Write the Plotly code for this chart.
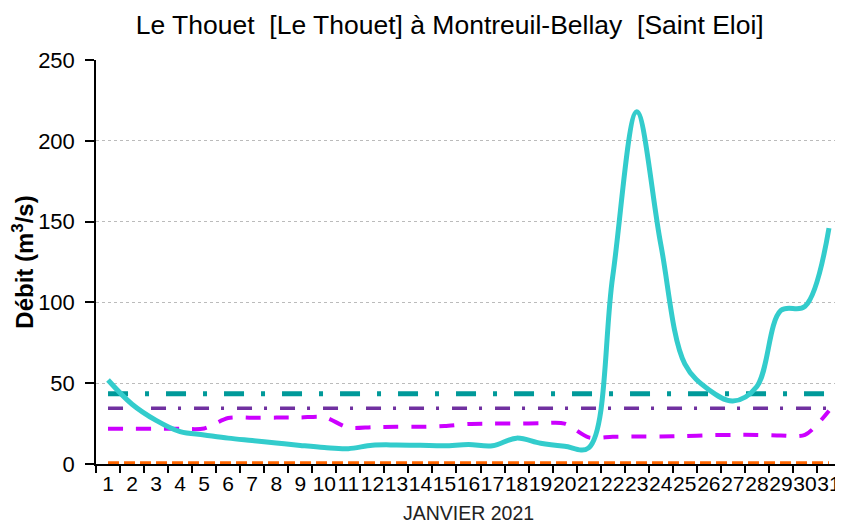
import plotly.graph_objects as go

days = list(range(1, 32))
day_labels = [str(d) for d in days]

debit = [52, 37, 27, 20, 18, 16, 14.5, 13, 11.5, 10.2, 9.5, 11.6, 11.8, 11.6, 11.3, 12,
         11.3, 16, 12.8, 11, 10, 116, 218, 136, 62, 46, 39, 48, 95, 97.5, 146]
seuil_teal = [43.5] * 31
seuil_purple = [34.5] * 31
magenta = [21.8, 21.8, 21.8, 21.8, 22, 28.5, 28.6, 28.7, 28.8, 29, 22.5, 22.8, 23, 23, 23.5,
           24.8, 25, 25, 25.2, 25, 16.5, 16.8, 17, 17, 17.3, 17.8, 18, 18, 17.6, 18, 33]
orange = [0.5] * 31

fig = go.Figure()
fig.add_trace(go.Scatter(x=days, y=orange, mode="lines",
                         line=dict(color="#FF6600", width=4, dash="11px,5px")))
fig.add_trace(go.Scatter(x=days, y=magenta, mode="lines",
                         line=dict(color="#CC00FF", width=4, dash="15px,13px", shape="spline", smoothing=0.8)))
fig.add_trace(go.Scatter(x=days, y=seuil_purple, mode="lines",
                         line=dict(color="#7030A0", width=3.5, dash="15px,12px,3px,13px")))
fig.add_trace(go.Scatter(x=days, y=seuil_teal, mode="lines",
                         line=dict(color="#009999", width=5, dash="20px,17px,4px,17px")))
fig.add_trace(go.Scatter(x=days, y=debit, mode="lines",
                         line=dict(color="#33CCCC", width=5, shape="spline", smoothing=1.0)))

# the page body adds an 8px offset, so the figure is sized to end at the window edge
fig.update_layout(
    width=835, height=518,
    margin=dict(l=88, r=2, t=52, b=62),
    paper_bgcolor="white", plot_bgcolor="white",
    showlegend=False,
    font=dict(family="Arial, Liberation Sans, sans-serif", color="black"),
    title=dict(text="Le Thouet  [Le Thouet] à Montreuil-Bellay  [Saint Eloi]",
               x=0.529, xanchor="center", y=0.967, yanchor="middle",
               font=dict(family="Arial, Liberation Sans, sans-serif", size=26.5, color="black")),
)
fig.update_xaxes(
    range=[0.5, 31.5], tickmode="array", tickvals=days, ticktext=day_labels,
    tickangle=0, ticks="", tickfont=dict(size=21),
    showline=True, linecolor="black", linewidth=1.5, showgrid=False, zeroline=False,
    minor=dict(ticks="outside", tick0=0.5, dtick=1, ticklen=7, tickcolor="black", tickwidth=1.5, showgrid=False),
    title=dict(text="JANVIER 2021", font=dict(size=19.5, color="#222222"), standoff=12),
    automargin=False,
)
fig.update_yaxes(
    range=[0, 250], tickvals=[0, 50, 100, 150, 200, 250],
    ticks="outside", ticklen=9, tickcolor="black", tickwidth=1.5,
    tickfont=dict(size=22), ticklabelstandoff=6,
    showline=True, linecolor="black", linewidth=1.5,
    showgrid=True, gridcolor="#BBBBBB", griddash="dot", gridwidth=1,
    zeroline=False,
    title=dict(text="<b>Débit (m<sup>3</sup>/s)</b>", font=dict(size=24), standoff=0),
    automargin=False,
)
fig.add_shape(type="line", xref="paper", yref="paper", x0=1, x1=1, y0=0, y1=1,
              line=dict(color="#BBBBBB", width=1))

fig.write_html("out.html")
